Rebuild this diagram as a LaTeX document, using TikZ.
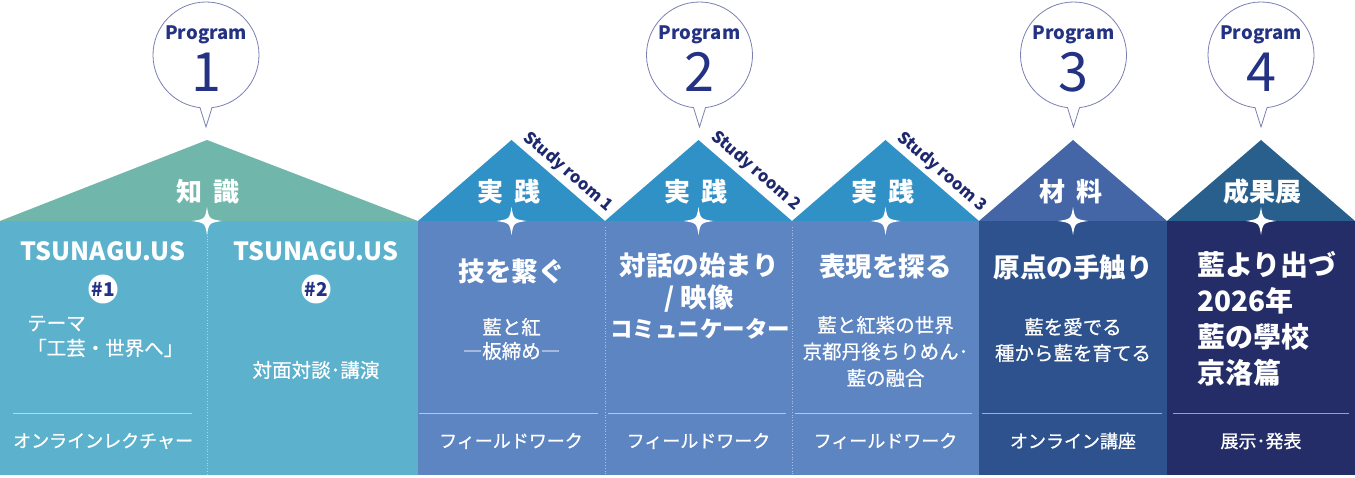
\documentclass[tikz,border=0pt]{standalone}
\usepackage{fontspec}
\setmainfont{Noto Sans CJK JP}
\newfontfamily\medfont{Noto Sans CJK JP}[FakeBold=1.0]
\newfontfamily\semifont{Noto Sans CJK JP}[FakeBold=0.6]
\definecolor{roofA}{RGB}{112,182,170}
\definecolor{bodyA}{RGB}{92,177,205}
\definecolor{roofB}{RGB}{48,145,199}
\definecolor{bodyB}{RGB}{93,133,194}
\definecolor{roofC}{RGB}{69,102,166}
\definecolor{bodyC}{RGB}{45,82,142}
\definecolor{roofD}{RGB}{40,95,140}
\definecolor{bodyD}{RGB}{36,45,104}
\definecolor{navy}{RGB}{36,50,132}
\definecolor{studynavy}{RGB}{30,40,110}
\definecolor{bubblestroke}{RGB}{122,128,178}
\tikzset{
  bubble/.style={draw=bubblestroke, line width=0.8pt, fill=white},
  progtext/.style={text=navy, font=\bfseries\fontsize{18.5}{20}\selectfont, inner sep=0pt},
  pnum/.style={text=navy, font=\fontsize{54}{56}\selectfont, inner sep=0pt},
  rooftitle/.style={text=white, font=\bfseries\fontsize{26}{28}\selectfont, inner sep=0pt},
  headtext/.style={text=white, font=\bfseries\fontsize{26.5}{30}\selectfont, inner sep=0pt},
  latinhead/.style={text=white, font=\bfseries\fontsize{25}{30}\selectfont, inner sep=0pt},
  subtext/.style={text=white, font=\semifont\fontsize{19.5}{25}\selectfont, align=center, inner sep=0pt},
  foottext/.style={text=white, font=\medfont\fontsize{18}{20}\selectfont, inner sep=0pt},
  sepline/.style={white, opacity=0.55, line width=0.7pt},
  dotline/.style={white, opacity=0.5, dotted, line width=0.8pt},
  srlabel/.style={text=studynavy, font=\bfseries\fontsize{16.5}{18}\selectfont, rotate=-41, inner sep=0pt},
  tagcircle/.style={circle, fill=white, minimum size=29pt, inner sep=0pt, text=navy, font=\bfseries\fontsize{19}{19}\selectfont},
  sparkle/.pic={\fill[white] (0,14) .. controls (2,2) .. (15,0) .. controls (2,-2) .. (0,-14) .. controls (-2,-2) .. (-15,0) .. controls (-2,2) .. (0,14) -- cycle;}
}
\begin{document}
\begin{tikzpicture}[x=1pt,y=1pt]
\useasboundingbox (0,0) rectangle (1355,477);
\fill[white] (0,0) rectangle (1355,477);
% bodies
\fill[bodyA] (0,2) rectangle (418,256);
\fill[bodyB] (418,2) rectangle (979,256);
\fill[bodyC] (979,2) rectangle (1167,256);
\fill[bodyD] (1167,2) rectangle (1355,256);
% roofs
\fill[roofA] (0,256) -- (207,337) -- (418,256) -- cycle;
\fill[roofB] (418,256) -- (511.5,337) -- (605,256) -- cycle;
\fill[roofB] (605,256) -- (698.5,337) -- (792,256) -- cycle;
\fill[roofB] (792,256) -- (885.5,337) -- (979,256) -- cycle;
\fill[roofC] (979,256) -- (1073,337) -- (1167,256) -- cycle;
\fill[roofD] (1167,256) -- (1261,337) -- (1355,256) -- cycle;
% separators
\draw[dotline] (207,244) -- (207,3);
\draw[dotline] (605,250) -- (605,3);
\draw[dotline] (792,250) -- (792,3);
\draw[sepline] (13,64) -- (192,64);
\draw[sepline] (419,64) -- (598,64);
\draw[sepline] (608,64) -- (786,64);
\draw[sepline] (795,64) -- (972,64);
\draw[sepline] (982,64) -- (1162,64);
\draw[sepline] (1173,64) -- (1349,64);
% sparkles
\pic at (207,256) {sparkle};
\pic at (511.5,256) {sparkle};
\pic at (698.5,256) {sparkle};
\pic at (885.5,256) {sparkle};
\pic at (1073,256) {sparkle};
\pic at (1261,256) {sparkle};
% roof titles
\node[rooftitle] (t1) at (208,285) {知\hspace{12pt}識};
\node[rooftitle] (t2) at (509,285) {実\hspace{12pt}践};
\node[rooftitle] (t3) at (696,285) {実\hspace{12pt}践};
\node[rooftitle] (t4) at (883,285) {実\hspace{12pt}践};
\node[rooftitle] (t5) at (1071,285) {材\hspace{12pt}料};
\node[rooftitle] (t6) at (1262,285) {成果展};
% study room labels
\node[srlabel] (sr1) at (568,305) {Study room 1};
\node[srlabel] (sr2) at (756,306) {Study room 2};
\node[srlabel] (sr3) at (942,305) {Study room 3};
% section 1
\node[latinhead] (ts1) at (103,226) {TSUNAGU.US};
\node[latinhead] (ts2) at (316,226) {TSUNAGU.US};
\node[tagcircle] (n1) at (103,188) {\#1};
\node[tagcircle] (n2) at (316,188) {\#2};
\node[subtext, align=left, anchor=west] (s1a) at (27,140.5) {テーマ\\「工芸・世界へ」};
\node[subtext] (s1b) at (316,107) {対面対談･講演};
\node[foottext, anchor=west] (f1) at (13,36) {オンラインレクチャー};
% study room 1
\node[headtext] (h2) at (511.5,206) {技を繋ぐ};
\node[subtext, font=\semifont\fontsize{19.5}{24}\selectfont] (s2) at (511.5,138) {藍と紅\\―板締め―};
\node[foottext] (f2) at (511,36) {フィールドワーク};
% study room 2
\node[headtext] (h3a) at (699,212) {対話の始まり};
\node[headtext] (h3b) at (699,178) {/ 映像};
\node[headtext, font=\bfseries\fontsize{22.5}{26}\selectfont] (h3c) at (700,148) {コミュニケーター};
\node[foottext] (f3) at (698.5,36) {フィールドワーク};
% study room 3
\node[headtext] (h4) at (885.5,210) {表現を探る};
\node[subtext, font=\semifont\fontsize{19.5}{26.5}\selectfont] (s4) at (885.5,125.5) {藍と紅紫の世界\\京都丹後ちりめん･\\藍の融合};
\node[foottext] (f4) at (885.5,36) {フィールドワーク};
% program 3
\node[headtext] (h5) at (1073,210) {原点の手触り};
\node[subtext, font=\semifont\fontsize{19.5}{26}\selectfont] (s5) at (1073,137) {藍を愛でる\\種から藍を育てる};
\node[foottext] (f5) at (1073,36) {オンライン講座};
% program 4
\node[headtext, font=\bfseries\fontsize{28}{36}\selectfont, align=left, anchor=north west] (h6) at (1197,226) {藍より出づ\\2026年\\藍の學校\\京洛篇};
\node[foottext] (f6) at (1261,36) {展示･発表};
% bubbles
\foreach \cx/\num in {206/1, 699.5/2, 1073.5/3, 1261/4} {
  \draw[bubble] (\cx,422) ++(-83.5:53) arc[start angle=-83.5, end angle=263.5, radius=53] -- (\cx,350) -- cycle;
  \node[progtext] (prog\num) at (\cx,442) {Program};
  \node[pnum] (num\num) at (\cx,405) {\num};
}
\end{tikzpicture}
\end{document}
